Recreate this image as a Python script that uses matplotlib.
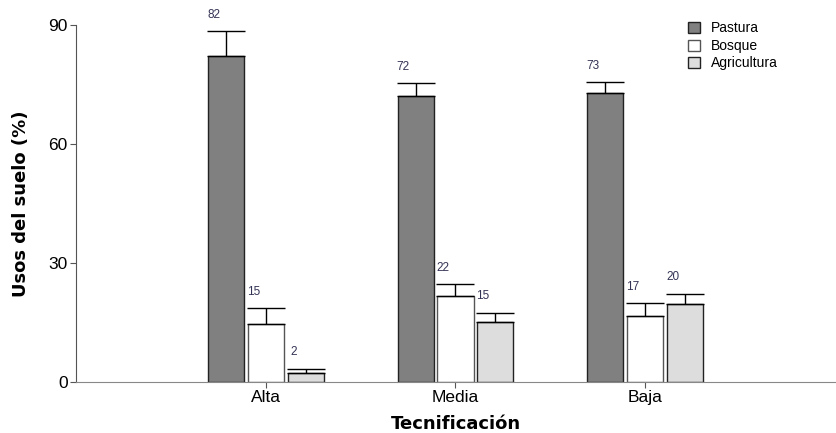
import matplotlib
matplotlib.use('Agg')
from matplotlib import pyplot as plt
from matplotlib.patches import Patch
import numpy as np

plt.rcParams['font.family'] = ['Liberation Sans', 'DejaVu Sans']

# datos
niveles = ['Alta', 'Media', 'Baja']
series = ['Pastura', 'Bosque', 'Agricultura']
# altura de las barras
pastura = [82.2, 72.1, 72.8]
bosque = [14.5, 21.8, 16.6]
agricultura = [2.2, 15.0, 19.7]
# etiquetas que se muestran sobre las barras
pastura_txt = ['82', '72', '73']
bosque_txt = ['15', '22', '17']
agricultura_txt = ['2', '15', '20']
# extremo superior de la barra de error
pastura_err = [6.3, 3.3, 2.8]
bosque_err = [4.2, 2.8, 3.2]
agricultura_err = [1.2, 2.5, 2.6]

colores = ['#808080', '#ffffff', '#dddddd']
bordes = ['#222222', '#555555', '#222222']

fig = plt.figure(figsize=(8.37, 4.33), dpi=100)
ax = fig.add_axes([0.0908, 0.1178, 0.9068, 0.8245])

x = np.arange(len(niveles))
ancho = 0.19
desp = [-0.21, 0, 0.21]
valores = [pastura, bosque, agricultura]
errores = [pastura_err, bosque_err, agricultura_err]
textos = [pastura_txt, bosque_txt, agricultura_txt]

for i in range(3):
    xi = x + desp[i]
    ax.bar(xi, valores[i], ancho, color=colores[i], edgecolor=bordes[i],
           linewidth=1, label=series[i], zorder=2)
    ax.errorbar(xi, valores[i], yerr=[np.zeros(3), errores[i]], fmt='none',
                ecolor='black', elinewidth=1, capsize=13.5, capthick=1, zorder=3)
    for j in range(3):
        ax.text(xi[j] - 0.065, valores[i][j] + errores[i][j] + 2.6,
                textos[i][j], ha='center', va='bottom',
                fontsize=8.5, color='#333355')

ax.set_xlim(-1, 3)
ax.set_ylim(0, 90)
ax.set_yticks([0, 30, 60, 90])
ax.set_xticks(x)
ax.set_xticklabels(niveles)
ax.tick_params(axis='both', labelsize=12.5, length=4, color='#555555', pad=2)
ax.spines['top'].set_visible(False)
ax.spines['right'].set_visible(False)
ax.spines['left'].set_color('#555555')
ax.spines['bottom'].set_color('#888888')
ax.set_xlabel('Tecnificación', fontsize=13, fontweight='bold', labelpad=7,
              family='DejaVu Sans')
ax.set_ylabel('Usos del suelo (%)', fontsize=13, fontweight='bold', labelpad=13,
              family='DejaVu Sans')

manijas = [Patch(facecolor=colores[i], edgecolor=bordes[i], label=series[i]) for i in range(3)]
ax.legend(handles=manijas, loc='upper left', bbox_to_anchor=(0.79, 1.045),
          frameon=False, fontsize=10, handlelength=0.85, handleheight=0.85,
          labelspacing=0.25, handletextpad=0.8)

plt.savefig('out.png', dpi=100)
